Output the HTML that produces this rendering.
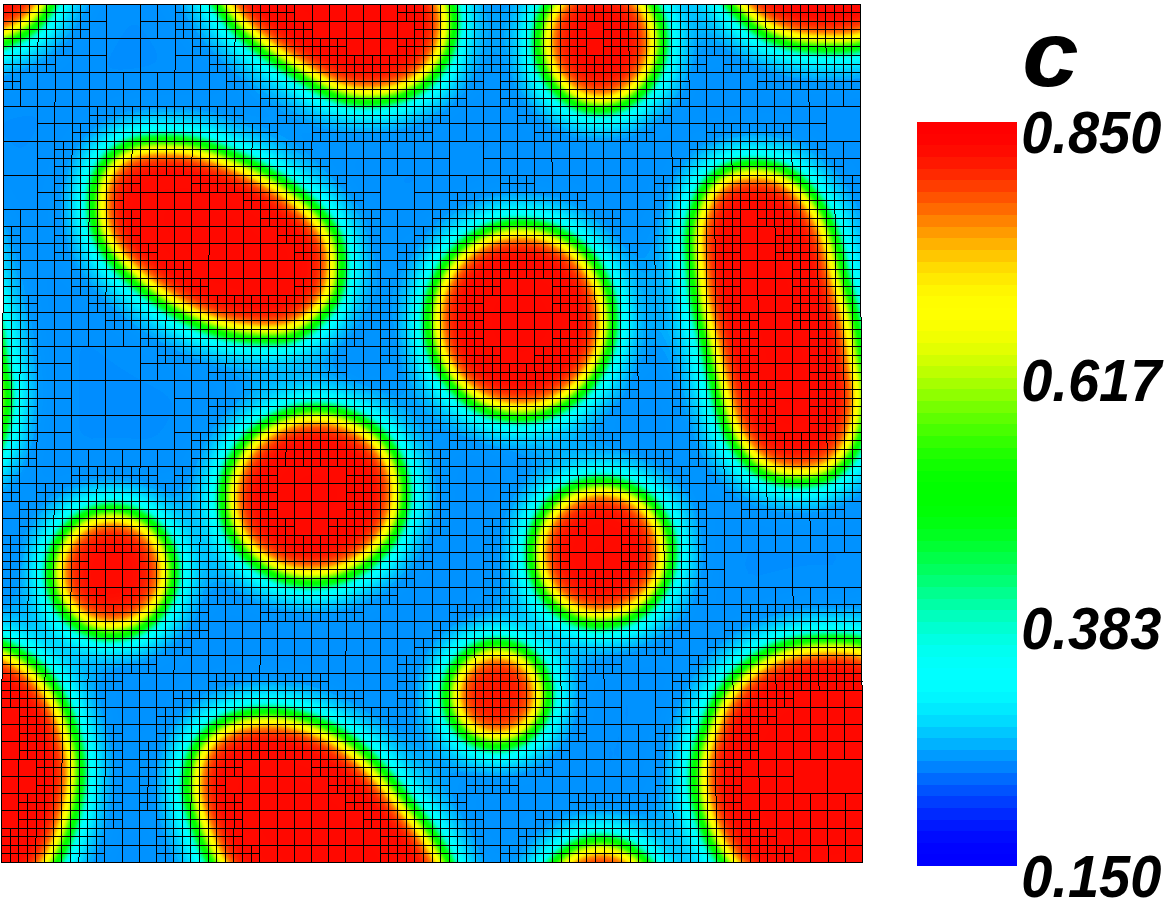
<!DOCTYPE html>
<html><head><meta charset="utf-8"><title>c</title>
<style>
html,body{margin:0;padding:0;background:#fff}
svg{display:block}
text{font-family:"Liberation Sans",sans-serif;font-weight:bold;font-style:italic;fill:#000}
</style></head><body>
<svg width="1165" height="903" viewBox="0 0 1165 903">
<defs>
<filter id="f" filterUnits="userSpaceOnUse" x="-250" y="-250" width="1370" height="1370" color-interpolation-filters="sRGB">
<feGaussianBlur in="SourceGraphic" stdDeviation="14.0" result="a"/>
<feGaussianBlur in="SourceGraphic" stdDeviation="36.0" result="b"/>
<feComposite in="a" in2="b" operator="arithmetic" k1="0" k2="0.75" k3="0.25" k4="0"/>
<feComponentTransfer>
<feFuncR type="table" tableValues="0 0 0 0 0 0 0 0 0 0 0 0 0 0 0 0 0 0 0 0 0 0 0 0 0 0 0 0 0 0 0 0 0 0 0 0 0 0 0 0 0 0 0 0 0 0 0 0 0 0 0 0 0 0 0 0 0 0 0 0 0 0 0 0 0 0 0 0 0 0 0 0 0 0 0 0 0 0 0 0 0 0 0 0 0 0 0 0 0 0 0 0 0 0 0 0 0 0 0 0 0 0 0 0 0 0 0 0 0 0 0 0 0 0 0 0 0 0 0 0 0 0 0 0 0 0 0 0 0 0.003 0.009 0.017 0.028 0.041 0.056 0.074 0.093 0.115 0.138 0.163 0.19 0.218 0.248 0.278 0.31 0.343 0.376 0.41 0.445 0.48 0.515 0.549 0.584 0.619 0.652 0.686 0.718 0.749 0.779 0.808 0.836 0.862 0.886 0.908 0.928 0.946 0.961 0.974 0.985 0.993 0.998 1 1 1 1 1 1 1 1 1 1 1 1 1 1 1 1 1 1 1 1 1 1 1 1 1 1 1 1 1 1 1 1 1 1 1 1 1 1 1 1 1 1 1 1 1 1 1 1 1 1 1 1 1 1 1 1 1 1 1 1 1 1 1 1 1 1 1 1 1 1 1 1 1 1 1 1 1 1 1 1 1 1 1 1 1"/>
<feFuncG type="table" tableValues="0 0 0 0 0 0 0 0 0 0 0 0 0 0 0 0 0 0 0 0 0 0 0 0 0.002 0.006 0.012 0.02 0.03 0.042 0.055 0.07 0.086 0.104 0.123 0.143 0.165 0.187 0.211 0.235 0.261 0.287 0.313 0.341 0.368 0.396 0.425 0.453 0.482 0.511 0.54 0.556 0.574 0.576 0.579 0.582 0.587 0.596 0.636 0.68 0.713 0.737 0.759 0.778 0.796 0.813 0.829 0.845 0.859 0.873 0.886 0.899 0.911 0.922 0.932 0.942 0.951 0.96 0.968 0.975 0.981 0.987 0.992 0.995 0.998 1 1 1 1 1 1 1 1 1 1 1 1 1 1 1 1 1 1 1 1 1 1 1 1 1 1 1 1 1 1 1 1 1 1 1 1 1 1 1 1 1 1 1 1 1 1 1 1 1 1 1 1 1 1 1 1 1 1 1 1 1 1 1 1 1 1 1 1 1 1 1 1 1 1 1 1 1 1 1 1 1 1 1 1 1 1 1 0.999 0.995 0.988 0.978 0.965 0.949 0.931 0.909 0.885 0.859 0.831 0.801 0.77 0.737 0.704 0.671 0.639 0.606 0.575 0.546 0.518 0.493 0.468 0.444 0.419 0.396 0.372 0.349 0.327 0.305 0.284 0.263 0.244 0.225 0.207 0.19 0.175 0.16 0.147 0.134 0.121 0.108 0.095 0.083 0.071 0.061 0.053 0.047 0.045 0.043 0.042 0.041 0.04 0.038 0.037 0.037 0.035 0.034 0.035 0.033 0.031 0.03 0.028 0.026 0.025 0.023 0.021 0.02 0.018 0.017 0.016 0.014 0.013 0.012 0.011 0.01 0.009 0.008 0.007 0.006 0.005 0.004 0.004 0.003"/>
<feFuncB type="table" tableValues="1 1 1 1 1 1 1 1 1 1 1 1 1 1 1 1 1 1 1 1 1 1 1 1 1 1 1 1 1 1 1 1 1 1 1 1 1 1 1 1 1 1 1 1 1 1 1 1 1 1 1 1 1 1 1 1 1 1 1 1 1 1 1 1 1 1 1 1 1 1 1 1 1 1 1 1 1 1 1 1 1 1 1 1 1 1 1 0.999 0.997 0.992 0.985 0.976 0.964 0.949 0.932 0.912 0.888 0.863 0.835 0.804 0.772 0.737 0.701 0.664 0.625 0.586 0.546 0.506 0.466 0.426 0.387 0.349 0.312 0.276 0.241 0.208 0.178 0.149 0.122 0.098 0.076 0.057 0.041 0.027 0.016 0.008 0.003 0 0 0 0 0 0 0 0 0 0 0 0 0 0 0 0 0 0 0 0 0 0 0 0 0 0 0 0 0 0 0 0 0 0 0 0 0 0 0 0 0 0 0 0 0 0 0 0 0 0 0 0 0 0 0 0 0 0 0 0 0 0 0 0 0 0 0 0 0 0 0 0 0 0 0 0 0 0 0 0 0 0 0 0 0 0 0 0 0 0 0 0 0 0 0 0 0 0 0 0 0 0 0 0 0 0 0 0 0 0 0 0 0 0 0 0 0 0 0 0 0 0 0 0 0 0 0 0 0"/>
</feComponentTransfer>
</filter>
<clipPath id="cp"><path d="M3.85 4.3L860.15 4.3L862.5 862.7L1.5 862.7Z"/></clipPath>
</defs>
<rect width="1165" height="903" fill="#fff"/>
<g clip-path="url(#cp)">
<g filter="url(#f)">
<rect x="-250" y="-250" width="1370" height="1370" fill="rgb(51,51,51)"/>
<g fill="rgb(230,230,230)">
<path d="M-33.9 -225.6C-24.9 -225.8 -13.1 -226 -6.9 -225C-0.7 -223.9 0.1 -221 3.4 -219.4C6.7 -217.9 9.1 -217.4 12.9 -215.4C16.8 -213.4 22.2 -210.3 26.5 -207.2C30.8 -204.2 35 -200.6 38.6 -197.1C42.2 -193.6 45.2 -190.1 48.2 -186.3C51.1 -182.4 53.8 -178.4 56.2 -174.2C58.7 -169.9 61 -165.1 63 -160.6C65.1 -156.1 66.9 -151.6 68.4 -147.1C70 -142.6 71.4 -137.6 72.5 -133.6C73.6 -129.5 74.2 -125.9 75.1 -122.8C76 -119.6 77.2 -119.6 77.9 -114.7C78.6 -109.7 79.4 -100.7 79.2 -93C78.9 -85.4 77.9 -76.8 76.5 -68.7C75.2 -60.6 73.4 -51.9 71.1 -44.3C68.8 -36.6 65.4 -29 62.9 -22.7C60.5 -16.4 58.4 -10.7 56.2 -6.5C54.1 -2.2 54 -2.9 50.1 3C46.2 8.9 40.8 22.5 32.9 28.9C25 35.2 9.7 38.2 3 41.1C-3.8 44 -2.6 45.5 -7.6 46.4C-12.6 47.3 -19.2 46.5 -27.1 46.4C-35 46.3 -46 46.6 -54.9 45.9C-63.9 45.2 -72.9 44.4 -80.9 42.2C-89 40 -96.5 36.7 -103.3 32.8C-110.1 28.9 -116.2 23.9 -121.9 18.9C-127.6 14 -134.2 7.3 -137.6 3.1C-141.1 -1.1 -140.3 -2.6 -142.6 -6.1C-144.8 -9.6 -148 -12.6 -151.1 -18C-154.3 -23.4 -158.5 -31.1 -161.4 -38.5C-164.2 -45.9 -166.5 -53.9 -168.2 -62.4C-169.9 -70.9 -171.6 -80.6 -171.6 -89.7C-171.6 -98.8 -170.4 -107.8 -168.2 -116.9C-165.9 -126.1 -160.5 -137.1 -157.9 -144.3C-155.4 -151.5 -155.1 -155.1 -152.9 -160C-150.7 -164.8 -147.9 -169 -144.7 -173.6C-141.6 -178.1 -137.7 -182.8 -133.9 -187.1C-130.1 -191.3 -126.1 -195.7 -121.8 -199.3C-117.5 -202.9 -112.7 -205.9 -108.2 -208.7C-103.7 -211.5 -99.2 -214.1 -94.7 -216.1C-90.2 -218.1 -86.9 -219.5 -81.2 -220.8C-75.6 -222.2 -68.7 -223.5 -60.8 -224.3C-52.9 -225.1 -42.9 -225.5 -33.9 -225.6Z"/>
<path d="M833.5 -225.6C842.5 -225.8 854.3 -226 860.5 -225C866.7 -223.9 867.5 -221 870.8 -219.4C874.1 -217.9 876.5 -217.4 880.3 -215.4C884.2 -213.4 889.6 -210.3 893.9 -207.2C898.2 -204.2 902.4 -200.6 906 -197.1C909.6 -193.6 912.6 -190.1 915.6 -186.3C918.5 -182.4 921.2 -178.4 923.6 -174.2C926.1 -169.9 928.4 -165.1 930.4 -160.6C932.5 -156.1 934.3 -151.6 935.8 -147.1C937.4 -142.6 938.8 -137.6 939.9 -133.6C941 -129.5 941.6 -125.9 942.5 -122.8C943.4 -119.6 944.6 -119.6 945.3 -114.7C946 -109.7 946.8 -100.7 946.6 -93C946.3 -85.4 945.3 -76.8 943.9 -68.7C942.6 -60.6 940.8 -51.9 938.5 -44.3C936.2 -36.6 932.8 -29 930.3 -22.7C927.9 -16.4 925.8 -10.7 923.6 -6.5C921.5 -2.2 921.4 -2.9 917.5 3C913.6 8.9 908.2 22.5 900.3 28.9C892.4 35.2 877.1 38.2 870.4 41.1C863.6 44 864.8 45.5 859.8 46.4C854.8 47.3 848.2 46.5 840.3 46.4C832.4 46.3 821.4 46.6 812.5 45.9C803.5 45.2 794.5 44.4 786.5 42.2C778.4 40 770.9 36.7 764.1 32.8C757.3 28.9 751.2 23.9 745.5 18.9C739.8 14 733.2 7.3 729.8 3.1C726.3 -1.1 727.1 -2.6 724.8 -6.1C722.6 -9.6 719.4 -12.6 716.3 -18C713.1 -23.4 708.9 -31.1 706 -38.5C703.2 -45.9 700.9 -53.9 699.2 -62.4C697.5 -70.9 695.8 -80.6 695.8 -89.7C695.8 -98.8 697 -107.8 699.2 -116.9C701.5 -126.1 706.9 -137.1 709.5 -144.3C712 -151.5 712.3 -155.1 714.5 -160C716.7 -164.8 719.5 -169 722.7 -173.6C725.8 -178.1 729.7 -182.8 733.5 -187.1C737.3 -191.3 741.3 -195.7 745.6 -199.3C749.9 -202.9 754.7 -205.9 759.2 -208.7C763.7 -211.5 768.2 -214.1 772.7 -216.1C777.2 -218.1 780.5 -219.5 786.2 -220.8C791.8 -222.2 798.7 -223.5 806.6 -224.3C814.5 -225.1 824.5 -225.5 833.5 -225.6Z"/>
<path d="M-33.9 641.1C-24.9 640.9 -13.1 640.7 -6.9 641.7C-0.7 642.8 0.1 645.7 3.4 647.3C6.7 648.8 9.1 649.3 12.9 651.3C16.8 653.3 22.2 656.4 26.5 659.5C30.8 662.5 35 666.1 38.6 669.6C42.2 673.1 45.2 676.6 48.2 680.4C51.1 684.3 53.8 688.3 56.2 692.5C58.7 696.8 61 701.6 63 706.1C65.1 710.6 66.9 715.1 68.4 719.6C70 724.1 71.4 729.1 72.5 733.1C73.6 737.2 74.2 740.8 75.1 743.9C76 747.1 77.2 747.1 77.9 752C78.6 757 79.4 766 79.2 773.7C78.9 781.3 77.9 789.9 76.5 798C75.2 806.1 73.4 814.8 71.1 822.4C68.8 830.1 65.4 837.7 62.9 844C60.5 850.3 58.4 856 56.2 860.2C54.1 864.5 54 863.8 50.1 869.7C46.2 875.6 40.8 889.2 32.9 895.6C25 901.9 9.7 904.9 3 907.8C-3.8 910.7 -2.6 912.2 -7.6 913.1C-12.6 914 -19.2 913.2 -27.1 913.1C-35 913 -46 913.3 -54.9 912.6C-63.9 911.9 -72.9 911.1 -80.9 908.9C-89 906.7 -96.5 903.4 -103.3 899.5C-110.1 895.6 -116.2 890.6 -121.9 885.6C-127.6 880.7 -134.2 874 -137.6 869.8C-141.1 865.6 -140.3 864.1 -142.6 860.6C-144.8 857.1 -148 854.1 -151.1 848.7C-154.3 843.3 -158.5 835.6 -161.4 828.2C-164.2 820.8 -166.5 812.8 -168.2 804.3C-169.9 795.8 -171.6 786.1 -171.6 777C-171.6 767.9 -170.4 758.9 -168.2 749.8C-165.9 740.6 -160.5 729.6 -157.9 722.4C-155.4 715.2 -155.1 711.6 -152.9 706.7C-150.7 701.9 -147.9 697.7 -144.7 693.1C-141.6 688.6 -137.7 683.9 -133.9 679.6C-130.1 675.4 -126.1 671 -121.8 667.4C-117.5 663.8 -112.7 660.8 -108.2 658C-103.7 655.2 -99.2 652.6 -94.7 650.6C-90.2 648.6 -86.9 647.2 -81.2 645.9C-75.6 644.5 -68.7 643.2 -60.8 642.4C-52.9 641.6 -42.9 641.2 -33.9 641.1Z"/>
<path d="M833.5 641.1C842.5 640.9 854.3 640.7 860.5 641.7C866.7 642.8 867.5 645.7 870.8 647.3C874.1 648.8 876.5 649.3 880.3 651.3C884.2 653.3 889.6 656.4 893.9 659.5C898.2 662.5 902.4 666.1 906 669.6C909.6 673.1 912.6 676.6 915.6 680.4C918.5 684.3 921.2 688.3 923.6 692.5C926.1 696.8 928.4 701.6 930.4 706.1C932.5 710.6 934.3 715.1 935.8 719.6C937.4 724.1 938.8 729.1 939.9 733.1C941 737.2 941.6 740.8 942.5 743.9C943.4 747.1 944.6 747.1 945.3 752C946 757 946.8 766 946.6 773.7C946.3 781.3 945.3 789.9 943.9 798C942.6 806.1 940.8 814.8 938.5 822.4C936.2 830.1 932.8 837.7 930.3 844C927.9 850.3 925.8 856 923.6 860.2C921.5 864.5 921.4 863.8 917.5 869.7C913.6 875.6 908.2 889.2 900.3 895.6C892.4 901.9 877.1 904.9 870.4 907.8C863.6 910.7 864.8 912.2 859.8 913.1C854.8 914 848.2 913.2 840.3 913.1C832.4 913 821.4 913.3 812.5 912.6C803.5 911.9 794.5 911.1 786.5 908.9C778.4 906.7 770.9 903.4 764.1 899.5C757.3 895.6 751.2 890.6 745.5 885.6C739.8 880.7 733.2 874 729.8 869.8C726.3 865.6 727.1 864.1 724.8 860.6C722.6 857.1 719.4 854.1 716.3 848.7C713.1 843.3 708.9 835.6 706 828.2C703.2 820.8 700.9 812.8 699.2 804.3C697.5 795.8 695.8 786.1 695.8 777C695.8 767.9 697 758.9 699.2 749.8C701.5 740.6 706.9 729.6 709.5 722.4C712 715.2 712.3 711.6 714.5 706.7C716.7 701.9 719.5 697.7 722.7 693.1C725.8 688.6 729.7 683.9 733.5 679.6C737.3 675.4 741.3 671 745.6 667.4C749.9 663.8 754.7 660.8 759.2 658C763.7 655.2 768.2 652.6 772.7 650.6C777.2 648.6 780.5 647.2 786.2 645.9C791.8 644.5 798.7 643.2 806.6 642.4C814.5 641.6 824.5 641.2 833.5 641.1Z"/>
<path d="M188.2 -88.3C188.6 -97.2 190.2 -106.8 193.6 -114.5C197 -122.2 202.3 -128.9 208.4 -134.5C214.5 -140.1 219.7 -144.8 230.1 -147.9C240.4 -151.1 258.4 -153.4 270.6 -153.4C282.7 -153.4 292.1 -151.1 303 -147.9C313.8 -144.8 325.5 -140.1 335.4 -134.5C345.3 -128.9 353.9 -122.2 362.5 -114.5C371 -106.8 379.1 -97.2 386.8 -88.3C394.4 -79.5 401.2 -70.3 408.4 -61.3C415.6 -52.3 423.6 -43.2 429.9 -34.2C436.2 -25.2 442.5 -13.7 446.2 -7.3C449.8 -0.8 450.5 -1.1 451.7 4.5C452.8 10.2 454.3 17.6 453.1 26.6C452 35.7 450.6 48.7 444.8 59C439 69.3 430.9 81.7 418.2 88.7C405.6 95.7 384.4 100.4 369.1 100.9C353.7 101.4 335.7 94.6 326.4 91.5C317 88.3 318.3 85.6 312.9 82C307.5 78.4 300.2 73.9 293.9 69.8C287.6 65.8 281.3 61.9 275 57.6C268.7 53.3 262.7 49.3 256.1 44.2C249.6 39 241.5 32.7 235.9 26.6C230.2 20.6 226.2 12.9 222.3 7.7C218.4 2.4 216.1 2.3 212.5 -4.7C208.8 -11.7 204 -24.8 200.4 -34.2C196.8 -43.7 192.9 -52.3 190.8 -61.3C188.8 -70.3 187.7 -79.5 188.2 -88.3Z"/>
<path d="M188.2 778.4C188.6 769.5 190.2 759.9 193.6 752.2C197 744.5 202.3 737.8 208.4 732.2C214.5 726.6 219.7 721.9 230.1 718.8C240.4 715.6 258.4 713.3 270.6 713.3C282.7 713.3 292.1 715.6 303 718.8C313.8 721.9 325.5 726.6 335.4 732.2C345.3 737.8 353.9 744.5 362.5 752.2C371 759.9 379.1 769.5 386.8 778.4C394.4 787.2 401.2 796.4 408.4 805.4C415.6 814.4 423.6 823.5 429.9 832.5C436.2 841.5 442.5 853 446.2 859.4C449.8 865.9 450.5 865.6 451.7 871.2C452.8 876.9 454.3 884.3 453.1 893.3C452 902.4 450.6 915.4 444.8 925.7C439 936 430.9 948.4 418.2 955.4C405.6 962.4 384.4 967.1 369.1 967.6C353.7 968.1 335.7 961.3 326.4 958.2C317 955 318.3 952.3 312.9 948.7C307.5 945.1 300.2 940.6 293.9 936.5C287.6 932.5 281.3 928.6 275 924.3C268.7 920 262.7 916 256.1 910.9C249.6 905.7 241.5 899.4 235.9 893.3C230.2 887.3 226.2 879.6 222.3 874.4C218.4 869.1 216.1 869 212.5 862C208.8 855 204 841.9 200.4 832.5C196.8 823 192.9 814.4 190.8 805.4C188.8 796.4 187.7 787.2 188.2 778.4Z"/>
<ellipse cx="600.2" cy="41.4" rx="61.9" ry="68"/>
<ellipse cx="600.2" cy="908.1" rx="61.9" ry="68"/>
<path d="M94 200.6C94.1 195.4 94 190 94.6 185.4C95.3 180.8 96.3 177 98 173.2C99.7 169.4 102.1 165.7 104.8 162.4C107.5 159 110.6 155.7 114.2 152.9C117.8 150.1 122.2 147.2 126.4 145.4C130.7 143.6 134.2 142.7 139.9 142.1C145.7 141.5 154.1 141.8 160.9 141.8C167.7 141.8 175.1 141.7 180.6 142.1C186.1 142.5 189.5 143.3 194 144.2C198.5 145.1 202 145.6 207.5 147.5C213.1 149.4 221.8 153.3 227.3 155.6C232.9 157.8 236.3 159.1 240.8 161C245.3 162.9 249.8 164.8 254.3 167.1C258.8 169.4 263.4 172 267.9 174.6C272.4 177.2 276.8 179.7 281.4 182.6C285.9 185.6 290.4 188.7 294.9 192.1C299.4 195.5 304.4 199.3 308.4 202.9C312.5 206.5 315.9 210.1 319.2 213.7C322.6 217.3 326 221.2 328.7 224.6C331.4 227.9 333.7 230.9 335.5 234C337.3 237.2 338.8 238.4 339.5 243.5C340.3 248.5 340 257.7 340 264.5C340 271.3 340.3 278.7 339.5 284.2C338.8 289.7 337.5 293.4 335.5 297.7C333.5 302 330.5 306 327.3 309.8C324.2 313.6 320 317.3 316.5 320.6C313 324 310.2 327.4 306.6 330C302.9 332.6 300.2 335.1 294.7 336.4C289.3 337.6 280.8 337.3 274.1 337.4C267.3 337.4 262.2 337.6 254.4 336.9C246.6 336.1 235.1 334.5 227.3 332.8C219.5 331.1 213.1 328.8 207.5 326.7C202 324.7 198.5 322.9 194 320.6C189.4 318.4 185 316 180.5 313.2C176 310.5 171.7 307.7 167 304.4C162.2 301.1 157 297.3 152 293.7C147.1 290.1 141.9 286.7 137.2 282.8C132.4 279 127.7 274.7 123.7 270.6C119.6 266.6 116.3 262.7 112.9 258.4C109.4 254.1 105.4 249.2 102.8 244.8C100.2 240.4 98.9 236.8 97.4 232C95.9 227.3 94.5 221.5 94 216.3C93.4 211 93.8 205.7 94 200.6Z"/>
<path d="M961.4 200.6C961.5 195.4 961.4 190 962 185.4C962.7 180.8 963.7 177 965.4 173.2C967.1 169.4 969.5 165.7 972.2 162.4C974.9 159 978 155.7 981.6 152.9C985.2 150.1 989.6 147.2 993.8 145.4C998.1 143.6 1001.6 142.7 1007.3 142.1C1013.1 141.5 1021.5 141.8 1028.3 141.8C1035.1 141.8 1042.5 141.7 1048 142.1C1053.5 142.5 1056.9 143.3 1061.4 144.2C1065.9 145.1 1069.4 145.6 1074.9 147.5C1080.5 149.4 1089.2 153.3 1094.7 155.6C1100.3 157.8 1103.7 159.1 1108.2 161C1112.7 162.9 1117.2 164.8 1121.7 167.1C1126.2 169.4 1130.8 172 1135.3 174.6C1139.8 177.2 1144.2 179.7 1148.8 182.6C1153.3 185.6 1157.8 188.7 1162.3 192.1C1166.8 195.5 1171.8 199.3 1175.8 202.9C1179.9 206.5 1183.3 210.1 1186.6 213.7C1190 217.3 1193.4 221.2 1196.1 224.6C1198.8 227.9 1201.1 230.9 1202.9 234C1204.7 237.2 1206.2 238.4 1206.9 243.5C1207.7 248.5 1207.4 257.7 1207.4 264.5C1207.4 271.3 1207.7 278.7 1206.9 284.2C1206.2 289.7 1204.9 293.4 1202.9 297.7C1200.9 302 1197.9 306 1194.7 309.8C1191.6 313.6 1187.4 317.3 1183.9 320.6C1180.4 324 1177.6 327.4 1174 330C1170.3 332.6 1167.6 335.1 1162.1 336.4C1156.7 337.6 1148.2 337.3 1141.5 337.4C1134.7 337.4 1129.6 337.6 1121.8 336.9C1114 336.1 1102.5 334.5 1094.7 332.8C1086.9 331.1 1080.5 328.8 1074.9 326.7C1069.4 324.7 1065.9 322.9 1061.4 320.6C1056.8 318.4 1052.4 316 1047.9 313.2C1043.4 310.5 1039.1 307.7 1034.4 304.4C1029.6 301.1 1024.4 297.3 1019.4 293.7C1014.5 290.1 1009.3 286.7 1004.6 282.8C999.8 279 995.1 274.7 991.1 270.6C987 266.6 983.7 262.7 980.3 258.4C976.8 254.1 972.8 249.2 970.2 244.8C967.6 240.4 966.3 236.8 964.8 232C963.3 227.3 961.9 221.5 961.4 216.3C960.8 211 961.2 205.7 961.4 200.6Z"/>
<path d="M94 1067.3C94.1 1062.1 94 1056.7 94.6 1052.1C95.3 1047.5 96.3 1043.7 98 1039.9C99.7 1036.1 102.1 1032.4 104.8 1029.1C107.5 1025.7 110.6 1022.4 114.2 1019.6C117.8 1016.8 122.2 1013.9 126.4 1012.1C130.7 1010.3 134.2 1009.4 139.9 1008.8C145.7 1008.2 154.1 1008.5 160.9 1008.5C167.7 1008.5 175.1 1008.4 180.6 1008.8C186.1 1009.2 189.5 1010 194 1010.9C198.5 1011.8 202 1012.3 207.5 1014.2C213.1 1016.1 221.8 1020 227.3 1022.3C232.9 1024.5 236.3 1025.8 240.8 1027.7C245.3 1029.6 249.8 1031.5 254.3 1033.8C258.8 1036.1 263.4 1038.7 267.9 1041.3C272.4 1043.9 276.8 1046.4 281.4 1049.3C285.9 1052.3 290.4 1055.4 294.9 1058.8C299.4 1062.2 304.4 1066 308.4 1069.6C312.5 1073.2 315.9 1076.8 319.2 1080.4C322.6 1084 326 1087.9 328.7 1091.3C331.4 1094.6 333.7 1097.6 335.5 1100.7C337.3 1103.9 338.8 1105.1 339.5 1110.2C340.3 1115.2 340 1124.4 340 1131.2C340 1138 340.3 1145.4 339.5 1150.9C338.8 1156.4 337.5 1160.1 335.5 1164.4C333.5 1168.7 330.5 1172.7 327.3 1176.5C324.2 1180.3 320 1184 316.5 1187.3C313 1190.7 310.2 1194.1 306.6 1196.7C302.9 1199.3 300.2 1201.8 294.7 1203.1C289.3 1204.3 280.8 1204 274.1 1204.1C267.3 1204.1 262.2 1204.3 254.4 1203.6C246.6 1202.8 235.1 1201.2 227.3 1199.5C219.5 1197.8 213.1 1195.5 207.5 1193.4C202 1191.4 198.5 1189.6 194 1187.3C189.4 1185.1 185 1182.7 180.5 1179.9C176 1177.2 171.7 1174.4 167 1171.1C162.2 1167.8 157 1164 152 1160.4C147.1 1156.8 141.9 1153.4 137.2 1149.5C132.4 1145.7 127.7 1141.4 123.7 1137.3C119.6 1133.3 116.3 1129.4 112.9 1125.1C109.4 1120.8 105.4 1115.9 102.8 1111.5C100.2 1107.1 98.9 1103.5 97.4 1098.7C95.9 1094 94.5 1088.2 94 1083C93.4 1077.7 93.8 1072.4 94 1067.3Z"/>
<path d="M961.4 1067.3C961.5 1062.1 961.4 1056.7 962 1052.1C962.7 1047.5 963.7 1043.7 965.4 1039.9C967.1 1036.1 969.5 1032.4 972.2 1029.1C974.9 1025.7 978 1022.4 981.6 1019.6C985.2 1016.8 989.6 1013.9 993.8 1012.1C998.1 1010.3 1001.6 1009.4 1007.3 1008.8C1013.1 1008.2 1021.5 1008.5 1028.3 1008.5C1035.1 1008.5 1042.5 1008.4 1048 1008.8C1053.5 1009.2 1056.9 1010 1061.4 1010.9C1065.9 1011.8 1069.4 1012.3 1074.9 1014.2C1080.5 1016.1 1089.2 1020 1094.7 1022.3C1100.3 1024.5 1103.7 1025.8 1108.2 1027.7C1112.7 1029.6 1117.2 1031.5 1121.7 1033.8C1126.2 1036.1 1130.8 1038.7 1135.3 1041.3C1139.8 1043.9 1144.2 1046.4 1148.8 1049.3C1153.3 1052.3 1157.8 1055.4 1162.3 1058.8C1166.8 1062.2 1171.8 1066 1175.8 1069.6C1179.9 1073.2 1183.3 1076.8 1186.6 1080.4C1190 1084 1193.4 1087.9 1196.1 1091.3C1198.8 1094.6 1201.1 1097.6 1202.9 1100.7C1204.7 1103.9 1206.2 1105.1 1206.9 1110.2C1207.7 1115.2 1207.4 1124.4 1207.4 1131.2C1207.4 1138 1207.7 1145.4 1206.9 1150.9C1206.2 1156.4 1204.9 1160.1 1202.9 1164.4C1200.9 1168.7 1197.9 1172.7 1194.7 1176.5C1191.6 1180.3 1187.4 1184 1183.9 1187.3C1180.4 1190.7 1177.6 1194.1 1174 1196.7C1170.3 1199.3 1167.6 1201.8 1162.1 1203.1C1156.7 1204.3 1148.2 1204 1141.5 1204.1C1134.7 1204.1 1129.6 1204.3 1121.8 1203.6C1114 1202.8 1102.5 1201.2 1094.7 1199.5C1086.9 1197.8 1080.5 1195.5 1074.9 1193.4C1069.4 1191.4 1065.9 1189.6 1061.4 1187.3C1056.8 1185.1 1052.4 1182.7 1047.9 1179.9C1043.4 1177.2 1039.1 1174.4 1034.4 1171.1C1029.6 1167.8 1024.4 1164 1019.4 1160.4C1014.5 1156.8 1009.3 1153.4 1004.6 1149.5C999.8 1145.7 995.1 1141.4 991.1 1137.3C987 1133.3 983.7 1129.4 980.3 1125.1C976.8 1120.8 972.8 1115.9 970.2 1111.5C967.6 1107.1 966.3 1103.5 964.8 1098.7C963.3 1094 961.9 1088.2 961.4 1083C960.8 1077.7 961.2 1072.4 961.4 1067.3Z"/>
<ellipse cx="520.2" cy="320.5" rx="91.3" ry="96.1"/>
<path d="M-104.2 165.2C-99.6 165.3 -94.9 164.9 -90.1 165.7C-85.3 166.5 -79.9 167.7 -75.2 169.9C-70.5 172.2 -66 175.6 -61.7 179.4C-57.5 183.2 -53.1 188.4 -49.5 192.9C-45.9 197.4 -43 201.7 -40.1 206.5C-37.1 211.2 -34.2 216.1 -31.9 221.3C-29.7 226.5 -28.2 232.6 -26.6 237.6C-25 242.5 -23.4 246.3 -22.5 251C-21.5 255.8 -21.8 260.1 -20.7 265.9C-19.6 271.7 -17.8 278.4 -15.7 286C-13.6 293.5 -10.3 302.9 -8.2 311.2C-6.1 319.5 -4.5 327.4 -3.2 335.8C-1.9 344.2 -1.9 352 -0.3 361.4C1.2 370.7 5.3 383.2 6.1 391.9C6.8 400.6 5 406.3 4.1 413.5C3.2 420.8 1.9 429.8 0.7 435.2C-0.6 440.6 -1.6 442.2 -3.4 446C-5.2 449.9 -7.5 454.4 -10.2 458.2C-12.9 462.1 -16.2 465.9 -19.6 469.1C-23 472.2 -26.4 475.4 -30.4 477.2C-34.5 479 -39 479.3 -44.1 479.9C-49.2 480.4 -55.2 480.5 -60.8 480.5C-66.5 480.5 -72.3 480.9 -77.8 479.9C-83.3 478.9 -89.1 476.9 -94 474.5C-99 472 -103.5 468.6 -107.5 465C-111.6 461.4 -114.9 457.1 -118.3 452.8C-121.7 448.5 -125.3 444.2 -127.8 439.3C-130.2 434.5 -131.2 429 -132.9 423.8C-134.6 418.6 -136.3 414 -137.8 408.1C-139.3 402.2 -140.3 395 -141.8 388.4C-143.2 381.9 -145.2 375.4 -146.7 368.9C-148.2 362.3 -149.2 355.8 -150.6 349.3C-152.1 342.7 -153.8 336.1 -155.4 329.6C-157.1 323 -159 316.5 -160.4 310C-161.7 303.5 -162.2 299.6 -163.3 290.4C-164.5 281.3 -166.4 263.9 -167.2 255.1C-168.1 246.2 -168.8 243.4 -168.6 237.4C-168.4 231.3 -167.3 224.5 -166.2 218.7C-165 212.8 -163.5 207.3 -161.7 202.3C-159.9 197.4 -158 193.1 -155.3 188.8C-152.6 184.6 -149.2 180 -145.5 176.6C-141.8 173.3 -138.1 170.4 -133.4 168.6C-128.7 166.7 -122 166 -117.1 165.4C-112.3 164.9 -108.7 165.2 -104.2 165.2Z"/>
<path d="M755.3 165.2C759.9 165.3 764.6 164.9 769.4 165.7C774.2 166.5 779.6 167.7 784.3 169.9C789 172.2 793.5 175.6 797.8 179.4C802 183.2 806.4 188.4 810 192.9C813.6 197.4 816.5 201.7 819.4 206.5C822.4 211.2 825.3 216.1 827.6 221.3C829.8 226.5 831.3 232.6 832.9 237.6C834.5 242.5 836.1 246.3 837 251C838 255.8 837.7 260.1 838.8 265.9C839.9 271.7 841.7 278.4 843.8 286C845.9 293.5 849.2 302.9 851.3 311.2C853.4 319.5 855 327.4 856.3 335.8C857.6 344.2 857.6 352 859.2 361.4C860.7 370.7 864.8 383.2 865.6 391.9C866.3 400.6 864.5 406.3 863.6 413.5C862.7 420.8 861.4 429.8 860.2 435.2C858.9 440.6 857.9 442.2 856.1 446C854.3 449.9 852 454.4 849.3 458.2C846.6 462.1 843.3 465.9 839.9 469.1C836.5 472.2 833.1 475.4 829.1 477.2C825 479 820.5 479.3 815.4 479.9C810.3 480.4 804.3 480.5 798.7 480.5C793 480.5 787.2 480.9 781.7 479.9C776.2 478.9 770.4 476.9 765.5 474.5C760.5 472 756 468.6 752 465C747.9 461.4 744.6 457.1 741.2 452.8C737.8 448.5 734.2 444.2 731.7 439.3C729.3 434.5 728.3 429 726.6 423.8C724.9 418.6 723.2 414 721.7 408.1C720.2 402.2 719.2 395 717.7 388.4C716.3 381.9 714.3 375.4 712.8 368.9C711.3 362.3 710.3 355.8 708.9 349.3C707.4 342.7 705.7 336.1 704.1 329.6C702.4 323 700.5 316.5 699.1 310C697.8 303.5 697.3 299.6 696.2 290.4C695 281.3 693.1 263.9 692.3 255.1C691.4 246.2 690.7 243.4 690.9 237.4C691.1 231.3 692.2 224.5 693.3 218.7C694.5 212.8 696 207.3 697.8 202.3C699.6 197.4 701.5 193.1 704.2 188.8C706.9 184.6 710.3 180 714 176.6C717.7 173.3 721.4 170.4 726.1 168.6C730.8 166.7 737.5 166 742.4 165.4C747.2 164.9 750.8 165.2 755.3 165.2Z"/>
<ellipse cx="314.2" cy="495.7" rx="90.6" ry="85.6" transform="rotate(-15 314.2 495.7)"/>
<ellipse cx="601.3" cy="552.9" rx="69.9" ry="71.2"/>
<ellipse cx="112" cy="572" rx="61.6" ry="63.3"/>
<ellipse cx="979.4" cy="572" rx="61.6" ry="63.3"/>
<ellipse cx="497.2" cy="-171.8" rx="51.2" ry="51.6"/>
<ellipse cx="497.2" cy="694.9" rx="51.2" ry="51.6"/>
</g>
</g>
</g>
<path d="M3 4.5H861M3 12.5H90M175 12.5H295M397 12.5H861M3 21.5H107M140 21.5H861M3 29.5H90M175 29.5H313M414 29.5H587M603 29.5H861M3 38.5H861M3 46.5H73M192 46.5H347M397 46.5H587M603 46.5H861M3 55.5H107M175 55.5H861M3 64.5H56M209 64.5H707M723 64.5H861M3 72.5H861M3 81.5H21M226 81.5H484M500 81.5H690M757 81.5H861M3 89.5H861M260 98.5H467M500 98.5H690M3 106.5H861M89 115.5H244M277 115.5H450M517 115.5H672M37 123.5H827M72 132.5H278M312 132.5H433M534 132.5H655M706 132.5H792M3 141.5H861M54 149.5H313M689 149.5H827M37 158.5H450M483 158.5H861M54 166.5H330M672 166.5H844M3 175.5H861M54 183.5H141M191 183.5H347M500 183.5H535M654 183.5H861M37 192.5H381M414 192.5H861M54 200.5H124M243 200.5H364M449 200.5H587M654 200.5H861M3 209.5H861M54 218.5H141M260 218.5H381M432 218.5H621M654 218.5H741M757 218.5H861M3 226.5H861M3 235.5H21M54 235.5H141M277 235.5H381M414 235.5H621M654 235.5H741M775 235.5H861M3 243.5H861M3 252.5H21M54 252.5H158M294 252.5H381M397 252.5H638M654 252.5H741M775 252.5H861M3 260.5H861M3 269.5H21M71 269.5H192M311 269.5H381M397 269.5H741M792 269.5H861M3 278.5H861M3 286.5H21M71 286.5H209M294 286.5H501M552 286.5H741M792 286.5H861M3 295.5H861M3 303.5H38M88 303.5H484M552 303.5H741M792 303.5H861M3 312.5H861M3 320.5H38M105 320.5H484M569 320.5H759M792 320.5H862M2 329.5H862M2 338.5H38M140 338.5H364M380 338.5H484M552 338.5H656M672 338.5H759M809 338.5H862M2 346.5H862M2 355.5H38M157 355.5H347M380 355.5H501M534 355.5H656M672 355.5H759M809 355.5H862M2 363.5H72M140 363.5H862M2 372.5H38M208 372.5H347M397 372.5H639M672 372.5H759M809 372.5H862M2 380.5H862M2 389.5H38M243 389.5H639M672 389.5H776M809 389.5H862M2 398.5H72M174 398.5H862M2 406.5H38M208 406.5H621M672 406.5H776M809 406.5H862M2 415.5H862M2 423.5H38M208 423.5H604M689 423.5H776M809 423.5H862M2 432.5H72M174 432.5H862M2 440.5H38M191 440.5H433M449 440.5H621M689 440.5H862M2 449.5H862M2 458.5H37M191 458.5H450M517 458.5H673M689 458.5H862M2 466.5H862M2 475.5H20M71 475.5H158M174 475.5H278M346 475.5H450M517 475.5H690M706 475.5H862M2 483.5H862M2 492.5H20M36 492.5H278M346 492.5H450M500 492.5H690M724 492.5H862M2 501.5H862M19 509.5H278M346 509.5H450M500 509.5H707M741 509.5H845M2 518.5H862M19 526.5H295M328 526.5H450M483 526.5H587M621 526.5H707M2 535.5H862M2 544.5H433M483 544.5H570M621 544.5H707M2 552.5H862M2 561.5H89M139 561.5H433M483 561.5H570M621 561.5H707M2 569.5H725M2 578.5H89M139 578.5H415M483 578.5H708M2 587.5H862M2 595.5H106M122 595.5H398M483 595.5H708M2 604.5H862M2 612.5H209M260 612.5H364M449 612.5H690M741 612.5H862M2 621.5H862M2 630.5H209M432 630.5H690M724 630.5H862M2 638.5H862M2 647.5H192M414 647.5H673M707 647.5H862M2 655.5H862M2 664.5H157M397 664.5H622M689 664.5H862M2 673.5H862M2 681.5H123M208 681.5H329M397 681.5H587M672 681.5H863M1 690.5H863M1 698.5H106M173 698.5H364M397 698.5H587M672 698.5H794M1 707.5H622M655 707.5H863M19 716.5H106M156 716.5H587M672 716.5H777M1 724.5H863M19 733.5H123M156 733.5H587M655 733.5H759M1 741.5H863M19 750.5H123M139 750.5H570M655 750.5H759M1 759.5H863M36 767.5H123M139 767.5H243M311 767.5H553M655 767.5H742M1 776.5H794M36 785.5H123M139 785.5H226M328 785.5H450M466 785.5H519M655 785.5H742M1 793.5H863M18 802.5H123M139 802.5H243M345 802.5H467M569 802.5H742M1 810.5H863M18 819.5H123M156 819.5H243M363 819.5H484M535 819.5H760M1 828.5H863M1 836.5H105M156 836.5H243M380 836.5H484M518 836.5H777M1 845.5H863M1 853.5H105M156 853.5H260M380 853.5H484M500 853.5H794M1 862.5H863M3.87 4L1.52 863M12.43 4L12.2 90M11.84 226L11.1 502M11.01 535L10.54 708M10.22 828L10.13 863M21 4L20.73 107M20.46 209L18.74 863M29.56 4L29.38 73M28.81 295L28.37 467M28.28 501L27.61 760M27.53 793L27.35 863M38.12 4L35.96 863M46.69 4L46.52 73M45.5 483L44.57 863M55.25 4L53.18 863M63.81 4L63.69 56M63.49 141L63.21 261M62.68 483L61.79 863M72.37 4L70.4 863M80.94 4L80.86 39M80.67 123L80.28 296M79.9 466L79.01 863M89.5 4L88.75 347M88.52 449L87.62 863M97.84 106L97.4 313M97.07 466L96.89 553M96.82 587L96.23 863M106.62 4L104.84 863M114.98 106L114.53 330M114.25 466L114.07 553M113.97 604L113.79 691M113.73 724L113.51 829M123.62 72L123.07 347M122.87 449L122.06 863M132.12 106L131.95 193M131.92 209L131.69 330M131.43 466L131.26 553M131.19 587L131.03 674M140.88 4L139.28 863M149.25 106L149.13 176M149.01 243L148.82 347M148.6 466L148.23 674M148.11 741L147.98 811M158 4L157.94 39M157.88 72L157.34 381M157.22 449L156.49 863M166.39 106L166.27 176M166.13 260L165.95 364M165.75 483L165.46 656M165.37 707L165.1 863M175.13 4L173.71 863M183.69 4L183.63 39M183.53 106L183.42 176M183.28 260L183.12 364M182.96 466L182.65 656M182.6 690L182.32 863M192.25 4L190.93 863M200.81 4L200.74 56M200.66 106L200.54 193M200.41 278L200.28 364M200.18 432L199.88 639M199.8 690L199.54 863M209.38 4L208.15 863M217.94 4L217.85 73M217.8 106L217.68 193M217.54 295L217.42 381M217.4 398L217.12 605M217.02 673L216.76 863M226.5 4L225.37 863M235.07 4L234.96 90M234.94 106L234.83 193M234.7 295L234.59 381M234.57 398L234.31 605M234.22 673L234.09 777M234.07 793L233.98 863M243.63 4L242.59 863M252.19 4L252.09 90M252.05 123L251.95 210M251.86 295L251.5 605M251.42 673L251.32 760M251.22 845L251.2 863M260.75 4L259.81 863M269.32 4L269.21 107M269.19 123L269.08 227M269.01 295L268.67 622M268.62 673L268.53 760M277.88 4L277.03 863M286.44 4L286.33 124M286.31 141L286.22 244M286.17 295L286.01 467M285.96 518L285.87 622M285.82 673L285.74 760M295.01 4L294.25 863M303.55 21L303.47 124M303.46 141L303.36 261M303.34 278L303.19 467M303.13 535L303.06 622M303.02 673L302.95 760M312.13 4L311.47 863M320.67 38L320.6 142M320.58 158L320.36 467M320.32 535L320.25 622M320.22 673L320.14 777M329.26 4L328.69 863M337.8 38L337.74 142M337.72 175L337.54 467M337.51 518L337.45 622M337.41 690L337.34 794M346.38 4L345.91 863M354.92 55L354.88 142M354.85 192L354.78 347M354.76 380L354.64 622M354.61 690L354.55 811M363.51 4L363.13 863M372.05 55L372.02 142M371.99 209L371.95 330M371.93 380L371.84 605M371.8 707L371.75 829M380.63 4L380.35 863M389.18 55L389.16 142M389.12 278L389.1 364M389.09 380L389.03 605M389 707L388.96 863M397.76 4L397.72 176M397.71 209L397.57 863M406.32 4L406.32 22M406.32 38L406.3 142M406.28 243L406.23 588M406.21 655L406.18 863M414.88 4L414.79 863M423.45 4L423.44 142M423.43 226L423.42 570M423.41 638L423.4 863M432.01 4L432.01 863M440.57 4L440.58 124M440.58 209L440.6 433M440.6 449L440.6 536M440.61 621L440.62 863M449.14 4L449.23 863M457.7 4L457.71 107M457.73 192L457.77 450M457.8 604L457.82 777M457.83 793L457.84 863M466.26 4L466.29 142M466.3 175L466.45 863M474.82 4L474.85 90M474.87 192L474.95 450M474.99 604L475.04 794M475.04 810L475.06 863M483.39 4L483.67 863M491.95 4L491.98 73M492.02 192L492.06 296M492.08 346L492.12 450M492.15 518L492.25 794M500.51 4L500.89 863M509.07 4L509.13 107M509.16 175L509.21 279M509.25 363L509.29 450M509.31 483L509.46 794M509.49 845L509.5 863M517.64 4L518.11 863M526.2 4L526.27 124M526.3 175L526.37 279M526.42 363L526.67 777M526.7 828L526.72 863M534.76 4L535.33 863M543.33 4L543.42 142M543.46 192L543.52 279M543.57 346L543.88 777M543.9 810L543.94 863M551.89 4L552.55 863M560.45 4L560.56 142M560.61 192L560.71 313M560.72 329L561.07 760M561.11 810L561.16 863M569.01 4L569.77 863M577.58 4L577.71 142M577.75 192L578.07 536M578.1 569L578.26 742M578.31 793L578.38 863M586.14 4L586.99 863M594.7 4L594.72 22M594.76 55L594.85 142M594.92 209L595.24 519M595.29 569L595.4 674M595.52 793L595.6 863M603.26 4L604.21 863M611.83 4L611.99 142M612.06 209L612.3 416M612.32 432L612.42 519M612.48 569L612.6 674M612.74 793L612.82 863M620.39 4L621.43 863M628.95 4L629.13 142M629.25 243L629.45 399M629.51 449L629.77 656M629.95 793L630.04 863M637.52 4L638.42 691M638.46 724L638.65 863M646.08 4L646.27 142M646.43 260L646.57 364M646.69 449L646.97 656M647.16 793L647.26 863M654.64 4L655.87 863M663.2 4L663.38 124M663.46 175L663.69 330M663.86 449L664.17 656M664.27 724L664.48 863M671.77 4L673.09 863M680.33 4L680.49 107M680.57 158L680.98 416M681.06 466L681.34 639M681.39 673L681.69 863M688.89 4L690.3 863M697.46 4L697.57 73M697.69 141L698.24 467M698.3 501L698.48 605M698.56 655L698.91 863M706.02 4L707.52 863M714.58 4L714.67 56M714.8 123L715.45 484M715.73 638L716.13 863M723.14 4L724.74 863M731.71 4L731.84 73M731.93 123L732.66 502M732.89 621L733.35 863M740.27 4L741.35 553M741.42 587L741.96 863M748.83 4L748.97 73M749.07 123L749.25 210M749.46 312L749.88 519M750.05 604L750.36 760M750.47 810L750.57 863M757.39 4L759.18 863M765.96 4L766.14 90M766.21 123L766.43 227M766.76 380L767.06 519M767.24 604L767.5 725M767.72 828L767.79 863M774.52 4L775.72 553M775.8 587L776.4 863M783.08 4L783.28 90M783.35 123L783.66 261M784.04 432L784.24 519M784.43 604L784.66 708M784.97 845L785.01 863M791.65 4L793.62 863M800.21 4L800.41 90M800.53 141L800.98 330M801.22 432L801.42 519M801.62 604L801.83 691M808.77 4L810.09 553M810.18 587L810.59 760M810.67 793L810.84 863M817.33 4L817.55 90M817.67 141L818.6 519M818.81 604L819.03 691M825.9 4L828.06 863M834.46 4L834.68 90M834.86 158L835.79 519M836 604L836.23 691M843.02 4L843.29 107M843.38 141L844.47 553M844.56 587L845.01 760M845.1 793L845.28 863M851.59 4L851.82 90M852.04 175L852.92 502M853.2 604L853.43 691M860.15 4L862.5 863" fill="none" stroke="#000" stroke-width="1" shape-rendering="crispEdges"/>
<g shape-rendering="crispEdges">
<rect x="917" y="122.00" width="100" height="12.12" fill="rgb(255,0,0)"/>
<rect x="917" y="133.62" width="100" height="12.12" fill="rgb(255,3,0)"/>
<rect x="917" y="145.25" width="100" height="12.12" fill="rgb(255,11,0)"/>
<rect x="917" y="156.88" width="100" height="12.12" fill="rgb(255,24,0)"/>
<rect x="917" y="168.50" width="100" height="12.12" fill="rgb(255,41,0)"/>
<rect x="917" y="180.12" width="100" height="12.12" fill="rgb(255,61,0)"/>
<rect x="917" y="191.75" width="100" height="12.12" fill="rgb(255,83,0)"/>
<rect x="917" y="203.38" width="100" height="12.12" fill="rgb(255,106,0)"/>
<rect x="917" y="215.00" width="100" height="12.12" fill="rgb(255,131,0)"/>
<rect x="917" y="226.62" width="100" height="12.12" fill="rgb(255,155,0)"/>
<rect x="917" y="238.25" width="100" height="12.12" fill="rgb(255,178,0)"/>
<rect x="917" y="249.88" width="100" height="12.12" fill="rgb(255,199,0)"/>
<rect x="917" y="261.50" width="100" height="12.12" fill="rgb(255,219,0)"/>
<rect x="917" y="273.12" width="100" height="12.12" fill="rgb(255,234,0)"/>
<rect x="917" y="284.75" width="100" height="12.12" fill="rgb(255,246,0)"/>
<rect x="917" y="296.38" width="100" height="12.12" fill="rgb(255,253,0)"/>
<rect x="917" y="308.00" width="100" height="12.12" fill="rgb(255,255,0)"/>
<rect x="917" y="319.62" width="100" height="12.12" fill="rgb(250,255,0)"/>
<rect x="917" y="331.25" width="100" height="12.12" fill="rgb(241,255,0)"/>
<rect x="917" y="342.88" width="100" height="12.12" fill="rgb(227,255,0)"/>
<rect x="917" y="354.50" width="100" height="12.12" fill="rgb(209,255,0)"/>
<rect x="917" y="366.12" width="100" height="12.12" fill="rgb(189,255,0)"/>
<rect x="917" y="377.75" width="100" height="12.12" fill="rgb(166,255,0)"/>
<rect x="917" y="389.38" width="100" height="12.12" fill="rgb(143,255,0)"/>
<rect x="917" y="401.00" width="100" height="12.12" fill="rgb(118,255,0)"/>
<rect x="917" y="412.62" width="100" height="12.12" fill="rgb(94,255,0)"/>
<rect x="917" y="424.25" width="100" height="12.12" fill="rgb(72,255,0)"/>
<rect x="917" y="435.88" width="100" height="12.12" fill="rgb(51,255,0)"/>
<rect x="917" y="447.50" width="100" height="12.12" fill="rgb(32,255,0)"/>
<rect x="917" y="459.12" width="100" height="12.12" fill="rgb(17,255,0)"/>
<rect x="917" y="470.75" width="100" height="12.12" fill="rgb(6,255,0)"/>
<rect x="917" y="482.38" width="100" height="12.12" fill="rgb(1,255,0)"/>
<rect x="917" y="494.00" width="100" height="12.12" fill="rgb(0,255,1)"/>
<rect x="917" y="505.62" width="100" height="12.12" fill="rgb(0,255,6)"/>
<rect x="917" y="517.25" width="100" height="12.12" fill="rgb(0,255,17)"/>
<rect x="917" y="528.88" width="100" height="12.12" fill="rgb(0,255,32)"/>
<rect x="917" y="540.50" width="100" height="12.12" fill="rgb(0,255,51)"/>
<rect x="917" y="552.12" width="100" height="12.12" fill="rgb(0,255,72)"/>
<rect x="917" y="563.75" width="100" height="12.12" fill="rgb(0,255,94)"/>
<rect x="917" y="575.38" width="100" height="12.12" fill="rgb(0,255,118)"/>
<rect x="917" y="587.00" width="100" height="12.12" fill="rgb(0,255,143)"/>
<rect x="917" y="598.62" width="100" height="12.12" fill="rgb(0,255,166)"/>
<rect x="917" y="610.25" width="100" height="12.12" fill="rgb(0,255,189)"/>
<rect x="917" y="621.88" width="100" height="12.12" fill="rgb(0,255,209)"/>
<rect x="917" y="633.50" width="100" height="12.12" fill="rgb(0,255,227)"/>
<rect x="917" y="645.12" width="100" height="12.12" fill="rgb(0,255,241)"/>
<rect x="917" y="656.75" width="100" height="12.12" fill="rgb(0,255,250)"/>
<rect x="917" y="668.38" width="100" height="12.12" fill="rgb(0,255,255)"/>
<rect x="917" y="680.00" width="100" height="12.12" fill="rgb(0,253,255)"/>
<rect x="917" y="691.62" width="100" height="12.12" fill="rgb(0,246,255)"/>
<rect x="917" y="703.25" width="100" height="12.12" fill="rgb(0,234,255)"/>
<rect x="917" y="714.88" width="100" height="12.12" fill="rgb(0,219,255)"/>
<rect x="917" y="726.50" width="100" height="12.12" fill="rgb(0,199,255)"/>
<rect x="917" y="738.12" width="100" height="12.12" fill="rgb(0,178,255)"/>
<rect x="917" y="749.75" width="100" height="12.12" fill="rgb(0,155,255)"/>
<rect x="917" y="761.38" width="100" height="12.12" fill="rgb(0,131,255)"/>
<rect x="917" y="773.00" width="100" height="12.12" fill="rgb(0,106,255)"/>
<rect x="917" y="784.62" width="100" height="12.12" fill="rgb(0,83,255)"/>
<rect x="917" y="796.25" width="100" height="12.12" fill="rgb(0,61,255)"/>
<rect x="917" y="807.88" width="100" height="12.12" fill="rgb(0,41,255)"/>
<rect x="917" y="819.50" width="100" height="12.12" fill="rgb(0,24,255)"/>
<rect x="917" y="831.12" width="100" height="12.12" fill="rgb(0,11,255)"/>
<rect x="917" y="842.75" width="100" height="12.12" fill="rgb(0,3,255)"/>
<rect x="917" y="854.38" width="100" height="11.62" fill="rgb(0,0,255)"/>
</g>
<text transform="translate(1022.25 85.64) scale(1.0445 0.9623)" font-size="97">c</text>
<text transform="translate(1021.2 152.95) scale(1.0 1.05)" font-size="56" textLength="140.1" lengthAdjust="spacingAndGlyphs">0.850</text>
<text transform="translate(1021.2 400.92) scale(1.0 1.05)" font-size="56" textLength="140.1" lengthAdjust="spacingAndGlyphs">0.617</text>
<text transform="translate(1021.2 648.89) scale(1.0 1.05)" font-size="56" textLength="140.1" lengthAdjust="spacingAndGlyphs">0.383</text>
<text transform="translate(1021.2 896.85) scale(1.0 1.05)" font-size="56" textLength="140.1" lengthAdjust="spacingAndGlyphs">0.150</text>
</svg>
</body></html>
